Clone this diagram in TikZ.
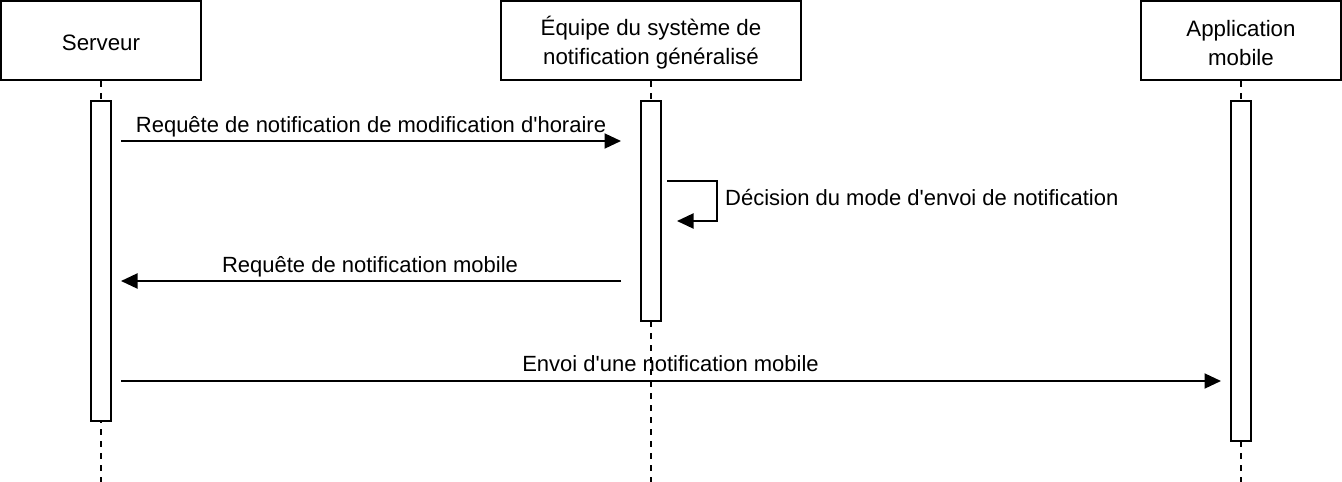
\documentclass[tikz,border=0pt]{standalone}
\usepackage{fontspec}
\setmainfont{Liberation Sans}[Ligatures=TeXOff]
\usetikzlibrary{arrows.meta}
\begin{document}
\begin{tikzpicture}[x=1pt,y=-1pt,
  actor/.style={draw,line width=2pt,minimum width=200pt,minimum height=79pt,inner sep=0pt},
  actortext/.style={align=center,font=\fontsize{22.3}{28.8}\selectfont,inner sep=0pt},
  activation/.style={draw,line width=2pt,fill=white,minimum width=20pt,inner sep=0pt},
  life/.style={line width=2pt,dash pattern=on 6pt off 6pt},
  msg/.style={line width=2pt,-{Triangle[length=16.5pt,width=15pt]}},
  lbl/.style={font=\fontsize{22}{26}\selectfont,inner sep=0pt,anchor=base}
]
\useasboundingbox (0,0) rectangle (1342,482);
% actors
\node[actor] (s) at (101,40.5) {};
\node[actor,minimum width=300pt] (e) at (651,40.5) {};
\node[actor] (a) at (1241,40.5) {};
\node[actortext] (st) at ([yshift=-2.5pt]s.center) {Serveur};
\node[actortext] (et) at ([yshift=-2.5pt]e.center) {Équipe du système de\\notification généralisé};
\node[actortext] (at) at ([yshift=-2.5pt]a.center) {Application\\mobile};
% lifeline ends
\coordinate (sb) at (101,482);
\coordinate (eb) at (651,482);
\coordinate (ab) at (1241,482);
\draw[life] (s.south) -- (sb);
\draw[life] (e.south) -- (eb);
\draw[life] (a.south) -- (ab);
% activations
\node[activation,minimum height=320pt] (sa) at (101,261) {};
\node[activation,minimum height=220pt] (ea) at (651,211) {};
\node[activation,minimum height=340pt] (aa) at (1241,271) {};
% message end points
\coordinate (m1a) at (121,141);
\coordinate (m1b) at (621,141);
\coordinate (m2a) at (621,281);
\coordinate (m2b) at (121,281);
\coordinate (m3a) at (121,381);
\coordinate (m3b) at (1221,381);
\coordinate (saa) at (667,181);
\coordinate (sab) at (677,221);
% messages
\draw[msg] (m1a) -- (m1b);
\node[lbl] (l1) at (371,132) {Requête de notification de modification d'horaire};
\draw[msg] (saa) -- (717,181) -- (717,221) -- (sab);
\node[lbl,anchor=base west] (ls) at (725,205) {Décision du mode d'envoi de notification};
\draw[msg] (m2a) -- (m2b);
\node[lbl] (l2) at (370,272) {Requête de notification mobile};
\draw[msg] (m3a) -- (m3b);
\node[lbl] (l3) at (670.5,371.5) {Envoi d'une notification mobile};
\end{tikzpicture}
\end{document}
